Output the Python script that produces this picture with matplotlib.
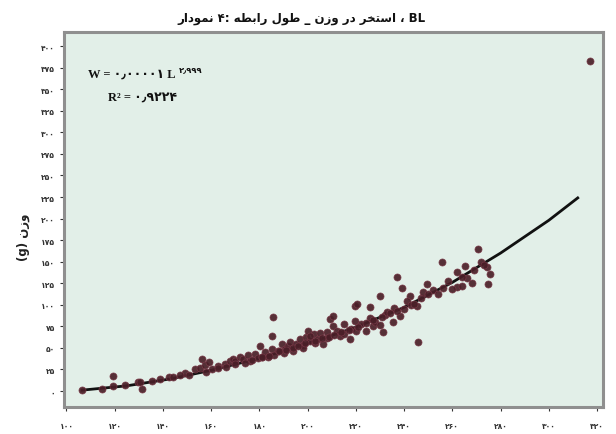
import matplotlib
matplotlib.use("Agg")
import matplotlib.pyplot as plt
from matplotlib.transforms import offset_copy

plt.rcParams['font.family'] = ['DejaVu Sans']

# ---------------- data ----------------
title_words = ["نمودار", "۴:", "رابطه", "طول", "_", "وزن", "در", "استخر", "،", "BL"]
ylabel_words = ["(g)", "وزن"]

x_ticks = [100, 120, 140, 160, 180, 200, 220, 240, 260, 280, 300, 320]
y_ticks = [0, 25, 50, 75, 100, 125, 150, 175, 200, 225, 250, 275, 300, 325, 350, 375, 400]

length = [106.6, 114.9, 119.1, 119.1, 124.1, 129.5, 131.5, 130.3, 135.3, 138.6,
          142.7, 144.0, 149.0, 153.1, 155.2, 156.4, 157.3, 159.3, 160.2, 162.7,
          165.6, 167.6, 168.9, 169.7, 171.8, 173.0, 175.1, 175.9, 178.0, 179.3,
          180.1, 180.9, 182.2, 183.4, 185.1, 185.5, 185.1, 187.6, 189.2, 190.5,
          191.7, 192.5, 193.8, 195.0, 196.7, 197.9, 199.2, 200.0, 200.8, 202.5,
          204.2, 205.0, 206.2, 207.9, 209.1, 210.4, 210.4, 213.3, 217.4, 219.5,
          219.5, 220.4, 225.7, 227.0, 229.9, 231.1, 235.3, 237.0, 238.2, 242.3,
          245.3, 245.7, 249.4, 255.6, 261.9, 263.9, 265.2, 270.6, 274.3, 274.7,
          275.5, 198.0, 203.0, 208.0, 212.0, 215.0, 218.0, 222.0, 224.0, 226.0,
          228.0, 232.0, 233.0, 236.0, 240.0, 241.0, 243.0, 247.0, 248.0, 252.0,
          254.0, 258.0, 260.0, 262.0, 266.0, 268.0, 272.0, 190.0, 186.0, 194.0,
          201.0, 215.0, 220.0, 230.0, 239.0,
          147.0, 151.0, 158.0, 163.0, 166.0, 170.0, 174.0, 177.0, 181.0, 184.0,
          188.0, 191.0, 196.0, 199.0, 203.0, 206.0, 209.0, 211.0, 214.0, 217.0,
          221.0, 224.0, 227.0, 231.0, 234.0, 237.0, 244.0, 250.0, 256.0, 264.0,
          269.0, 273.0, 317.0]
weight = [1.0, 2.3, 17.4, 5.8, 7.0, 10.4, 2.3, 10.4, 11.6, 13.9,
          16.2, 16.2, 20.9, 25.5, 26.7, 37.1, 30.2, 33.6, 25.5, 29.0,
          31.3, 34.8, 37.1, 34.8, 39.4, 37.1, 41.8, 34.8, 42.9, 38.3,
          52.2, 39.4, 45.2, 39.4, 48.7, 85.8, 63.8, 46.4, 54.5, 48.7,
          52.2, 56.8, 46.4, 54.5, 60.3, 53.4, 62.6, 69.6, 58.0, 66.1,
          60.3, 67.3, 54.5, 68.4, 83.5, 75.4, 87.0, 63.8, 60.3, 98.6,
          81.2, 100.9, 97.4, 75.4, 110.2, 68.4, 80.0, 132.2, 87.0, 110.2,
          98.6, 56.8, 124.1, 149.6, 120.6, 121.8, 145.0, 164.7, 143.8, 124.1,
          135.7, 50.0, 56.0, 62.0, 70.0, 66.0, 72.0, 78.0, 70.0, 85.0,
          80.0, 88.0, 92.0, 96.0, 95.0, 104.0, 100.0, 108.0, 115.0, 117.0,
          112.0, 128.0, 118.0, 138.0, 131.0, 125.0, 150.0, 44.0, 42.0, 50.0,
          64.0, 78.0, 70.0, 76.0, 120.0,
          18.0, 19.0, 22.0, 27.0, 28.0, 31.0, 33.0, 36.0, 40.0, 41.0,
          46.0, 47.0, 52.0, 56.0, 58.0, 61.0, 63.0, 65.0, 68.0, 71.0,
          74.0, 79.0, 82.0, 86.0, 90.0, 93.0, 101.0, 112.0, 120.0, 132.0,
          140.0, 146.0, 382.8]

fit_length = [106.5, 125, 143, 160, 180, 200, 220, 240, 260, 280, 300, 312]
fit_weight = [1, 6, 14, 24, 38, 55, 74, 97, 126, 160, 198, 224]

eq_main = "W = ۰٫۰۰۰۰۱ L"
eq_exp = "۲٫۹۹۹"
r2_text = "R² = ۰٫۹۲۲۴"

# ---------------- helpers ----------------
FORMS = {  # isolated, final, initial, medial
    'ا': ('\uFE8D', '\uFE8E', None, None),
    'ب': ('\uFE8F', '\uFE90', '\uFE91', '\uFE92'),
    'ت': ('\uFE95', '\uFE96', '\uFE97', '\uFE98'),
    'خ': ('\uFEA5', '\uFEA6', '\uFEA7', '\uFEA8'),
    'د': ('\uFEA9', '\uFEAA', None, None),
    'ر': ('\uFEAD', '\uFEAE', None, None),
    'ز': ('\uFEAF', '\uFEB0', None, None),
    'س': ('\uFEB1', '\uFEB2', '\uFEB3', '\uFEB4'),
    'ط': ('\uFEC1', '\uFEC2', '\uFEC3', '\uFEC4'),
    'ل': ('\uFEDD', '\uFEDE', '\uFEDF', '\uFEE0'),
    'م': ('\uFEE1', '\uFEE2', '\uFEE3', '\uFEE4'),
    'ن': ('\uFEE5', '\uFEE6', '\uFEE7', '\uFEE8'),
    'ه': ('\uFEE9', '\uFEEA', '\uFEEB', '\uFEEC'),
    'و': ('\uFEED', '\uFEEE', None, None),
}


def shape_word(word):
    if not any(c in FORMS for c in word):
        return word
    out = []
    n = len(word)
    for i, c in enumerate(word):
        if c not in FORMS:
            out.append(c)
            continue
        f = FORMS[c]
        prev = word[i - 1] if i > 0 else None
        nxt = word[i + 1] if i + 1 < n else None
        jp = prev in FORMS and FORMS[prev][2] is not None
        jn = f[2] is not None and nxt in FORMS
        if jp and jn:
            out.append(f[3])
        elif jp:
            out.append(f[1])
        elif jn:
            out.append(f[2])
        else:
            out.append(f[0])
    return "".join(out)[::-1]


def fa_digits(v):
    return str(v).translate(str.maketrans("0123456789", "۰۱۲۳۴۵۶۷۸۹"))


title = " ".join(shape_word(w) for w in title_words)
ylabel = " ".join(shape_word(w) for w in ylabel_words)

# ---------------- figure ----------------
fig = plt.figure(figsize=(6.16, 4.35), dpi=100)
fig.patch.set_facecolor('white')
ax = fig.add_axes([0.104, 0.062, 0.875, 0.862])
ax.set_facecolor('#e2efe8')

ax.plot(fit_length, fit_weight, color='#111111', lw=2.0, zorder=2)
ax.scatter(length, weight, s=26, facecolor='#4a1f28', edgecolor='#7a3a48',
           linewidths=0.5, alpha=0.92, zorder=3)

ax.set_xlim(99, 322.5)
ax.set_ylim(-18.6, 416.4)
ax.set_xticks(x_ticks)
ax.set_xticklabels([fa_digits(v) for v in x_ticks])
ax.set_yticks(y_ticks)
ax.set_yticklabels([fa_digits(v) for v in y_ticks])
ax.tick_params(axis='both', labelsize=5.5, colors='#333333', length=3, width=0.8)
for lab in ax.get_xticklabels() + ax.get_yticklabels():
    lab.set_fontweight('bold')
ax.tick_params(axis='x', pad=7)

for s in ax.spines.values():
    s.set_color('#8f8f8f')
    s.set_linewidth(2.2)

t_main = ax.text(0.045, 0.888, eq_main, transform=ax.transAxes, fontsize=9,
                 fontweight='bold', family=['Liberation Serif', 'DejaVu Sans'],
                 va='center', ha='left', color='#111111')
fig.canvas.draw()
bb = t_main.get_window_extent()
x_end = ax.transAxes.inverted().transform((bb.x1, bb.y1))[0]
ax.text(x_end + 0.005, 0.903, eq_exp, transform=ax.transAxes, fontsize=6,
        fontweight='bold', va='center', ha='left', color='#111111')
ax.text(0.082, 0.829, r2_text, transform=ax.transAxes, fontsize=9,
        fontweight='bold', family=['Liberation Serif', 'DejaVu Sans'],
        va='center', ha='left', color='#111111')

fig.text(0.49, 0.958, title, ha='center', va='center', fontsize=8.5,
         fontweight='bold', color='#111111')
fig.text(0.038, 0.455, ylabel, rotation=90, ha='center', va='center',
         fontsize=8.5, fontweight='bold', color='#222222')

fig.savefig('out.png', dpi=100, facecolor='white')
